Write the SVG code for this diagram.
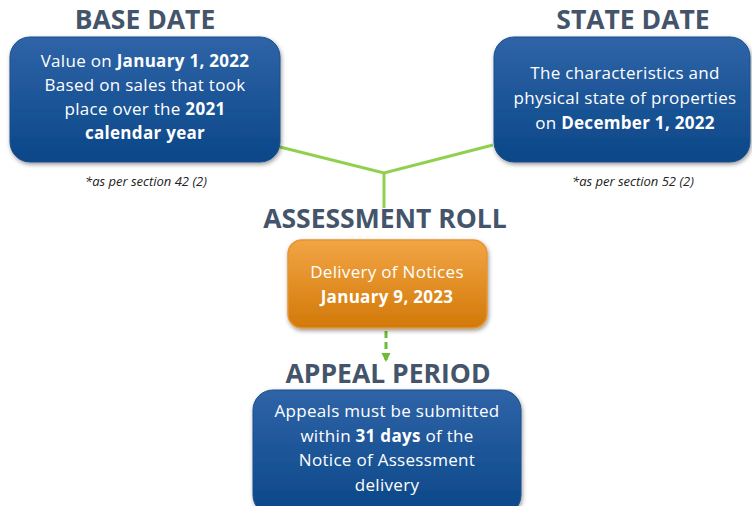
<svg xmlns="http://www.w3.org/2000/svg" width="752" height="506" viewBox="0 0 752 506">
<defs>
<linearGradient id="blue" x1="0" y1="0" x2="0" y2="1">
<stop offset="0" stop-color="#2f64a7"/>
<stop offset="1" stop-color="#0a4788"/>
</linearGradient>
<linearGradient id="orange" x1="0" y1="0" x2="0" y2="1">
<stop offset="0" stop-color="#f2a544"/>
<stop offset="1" stop-color="#d27908"/>
</linearGradient>
<filter id="sh" x="-10%" y="-10%" width="120%" height="130%">
<feDropShadow dx="1" dy="2" stdDeviation="2" flood-color="#000" flood-opacity="0.4"/>
</filter>
<marker id="arr" viewBox="0 0 10 10" refX="10" refY="5" markerWidth="9" markerHeight="11" markerUnits="userSpaceOnUse" orient="auto">
<path d="M0,0 L10,5 L0,10 Z" fill="#6cbd35"/>
</marker>
</defs>
<style>
.title{font-family:"Open Sans","Liberation Sans",sans-serif;font-weight:bold;font-size:26.5px;fill:#44546a;text-anchor:middle}
.bt{font-family:"Open Sans","Liberation Sans",sans-serif;font-size:17px;letter-spacing:0.3px;fill:#fff;text-anchor:middle}
.b{font-weight:bold}
.note{font-family:"Open Sans","Liberation Sans",sans-serif;font-style:italic;font-size:13px;fill:#222;text-anchor:middle}
.box{fill:url(#blue);stroke:#1d4f8c;stroke-width:1;filter:url(#sh)}
.obox{fill:url(#orange);stroke:#e59532;stroke-width:1.5;filter:url(#sh)}
.con{stroke:#8fd14f;stroke-width:3;fill:none}
</style>
<g id="connectors">
<polyline class="con" points="280,147 384,173 493,145"/>
<line class="con" x1="384" y1="173" x2="384" y2="208"/>
<line x1="386" y1="331" x2="386" y2="362" stroke="#6cbd35" stroke-width="3" stroke-dasharray="7,4" marker-end="url(#arr)"/>
</g>
<g id="base-date">
<text class="title" x="145" y="29">BASE DATE</text>
<rect class="box" x="10" y="37" width="270" height="125" rx="20"/>
<text class="bt" x="145" y="67">Value on <tspan class="b">January 1, 2022</tspan></text>
<text class="bt" x="145" y="91">Based on sales that took</text>
<text class="bt" x="145" y="115">place over the <tspan class="b">2021</tspan></text>
<text class="bt" x="145" y="139"><tspan class="b">calendar year</tspan></text>
<text class="note" x="146" y="186">*as per section 42 (2)</text>
</g>
<g id="state-date">
<text class="title" x="633" y="29">STATE DATE</text>
<rect class="box" x="494" y="37" width="256" height="125" rx="20"/>
<text class="bt" x="625" y="79">The characteristics and</text>
<text class="bt" x="625" y="104">physical state of properties</text>
<text class="bt" x="625" y="129">on <tspan class="b">December 1, 2022</tspan></text>
<text class="note" x="633" y="186">*as per section 52 (2)</text>
</g>
<g id="assessment-roll">
<text class="title" x="385" y="228">ASSESSMENT ROLL</text>
<rect class="obox" x="288" y="240" width="199" height="88" rx="14"/>
<text class="bt" x="387" y="278">Delivery of Notices</text>
<text class="bt b" x="387" y="303">January 9, 2023</text>
</g>
<g id="appeal-period">
<text class="title" x="388" y="383">APPEAL PERIOD</text>
<rect class="box" x="253" y="390" width="268" height="125" rx="20"/>
<text class="bt" x="387" y="417">Appeals must be submitted</text>
<text class="bt" x="387" y="442">within <tspan class="b">31 days</tspan> of the</text>
<text class="bt" x="387" y="466">Notice of Assessment</text>
<text class="bt" x="387" y="491">delivery</text>
</g>
</svg>
